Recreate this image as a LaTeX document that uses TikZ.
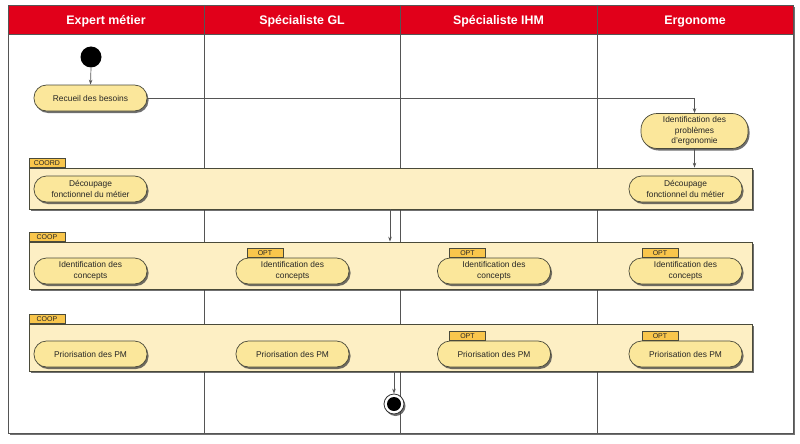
\documentclass[tikz,border=0pt]{standalone}
\usepackage{fontspec}
\setmainfont{Liberation Sans}
\usetikzlibrary{shadows,arrows.meta,calc}
\definecolor{hdrred}{HTML}{E1001A}
\definecolor{pillfill}{HTML}{FBE79B}
\definecolor{bandfill}{HTML}{FDEFC4}
\definecolor{tabfill}{HTML}{F9C64C}
\definecolor{edge}{HTML}{4A4A3A}
\definecolor{lane}{HTML}{555555}
\tikzset{
  myshadow/.style={drop shadow={shadow xshift=1.5pt,shadow yshift=-2pt,opacity=0.75,fill=black!75}},
  pill/.style={draw=edge,fill=pillfill,rounded corners=12.5pt,minimum width=113pt,minimum height=26pt,
    align=center,inner sep=0pt,font=\fontsize{8.4}{10.5}\selectfont,text=black!85,myshadow,line width=0.7pt},
  bigpill/.style={pill,rounded corners=16pt,minimum width=107pt,minimum height=35pt},
  band/.style={draw=edge,fill=bandfill,minimum width=723pt,inner sep=0pt,myshadow,line width=0.7pt},
  tabbox/.style={draw=edge,fill=tabfill,minimum width=36pt,minimum height=9.5pt,inner sep=0pt,
    font=\fontsize{7}{7}\selectfont,text=black!85,anchor=south west,line width=0.6pt},
  hdr/.style={text=white,font=\fontsize{12.4}{14}\selectfont\bfseries,anchor=base},
  flow/.style={draw=lane,line width=0.7pt,-{Stealth[length=5pt,width=3.5pt]}},
  flowline/.style={draw=lane,line width=0.7pt}
}
\begin{document}
\begin{tikzpicture}[x=1pt,y=-1pt]
\useasboundingbox (0,0) rectangle (800,444);
% frame
\path[fill=white,draw=lane,line width=0.9pt,myshadow] (8,5) rectangle (793,433);
\path[fill=hdrred,draw=lane,line width=0.9pt] (8,5) rectangle (793,34);
\foreach \x in {204,400,597}{\draw[lane,line width=0.9pt] (\x,5) -- (\x,433);}
\node[hdr] (h1) at (106,25) {Expert métier};
\node[hdr] (h2) at (302,25) {Spécialiste GL};
\node[hdr] (h3) at (498.5,25) {Spécialiste IHM};
\node[hdr] (h4) at (695,25) {Ergonome};
% bands
\node[band,minimum height=41pt] (coord) at (390.5,188.5) {};
\node[tabbox] (tcoord) at (coord.north west) {COORD};
\node[band,minimum height=47pt] (coop1) at (390.5,265.5) {};
\node[tabbox] (tcoop1) at (coop1.north west) {COOP};
\node[band,minimum height=47pt] (coop2) at (390.5,347.5) {};
\node[tabbox] (tcoop2) at (coop2.north west) {COOP};
% start
\node[circle,fill=black,minimum size=21pt,inner sep=0pt] (start) at (91,57) {};
\node[pill] (rec) at (90.5,98) {Recueil des besoins};
\node[bigpill] (ident) at (694.5,131) {Identification des\\problèmes\\d'ergonomie};
% coord pills
\node[pill] (dec1) at (90.5,189) {Découpage\\fonctionnel du métier};
\node[pill] (dec4) at (685.5,189) {Découpage\\fonctionnel du métier};
% coop1 pills
\node[pill] (ic1) at (90.5,271) {Identification des\\concepts};
\node[pill] (ic2) at (292.5,271) {Identification des\\concepts};
\node[pill] (ic3) at (494,271) {Identification des\\concepts};
\node[pill] (ic4) at (685.5,271) {Identification des\\concepts};
\node[tabbox] (o12) at ($(ic2.north west)+(11,0)$) {OPT};
\node[tabbox] (o13) at ($(ic3.north west)+(12,0)$) {OPT};
\node[tabbox] (o14) at ($(ic4.north west)+(13,0)$) {OPT};
% coop2 pills
\node[pill] (pm1) at (90.5,354) {Priorisation des PM};
\node[pill] (pm2) at (292.5,354) {Priorisation des PM};
\node[pill] (pm3) at (494,354) {Priorisation des PM};
\node[pill] (pm4) at (685.5,354) {Priorisation des PM};
\node[tabbox] (o23) at ($(pm3.north west)+(12,0)$) {OPT};
\node[tabbox] (o24) at ($(pm4.north west)+(13,0)$) {OPT};
% end
\node[circle,draw=black!80,fill=white,line width=0.8pt,minimum size=20pt,inner sep=0pt,myshadow] (endc) at (394,404) {};
\node[circle,fill=black,minimum size=14pt,inner sep=0pt] (endin) at (endc) {};
% connectors
\coordinate (a1) at (390,0);
\draw[flow] (start.south) -- (rec.north);
\draw[flow] (rec.east) -| (ident.north);
\draw[flow] (ident.south) -- (ident.south |- coord.north);
\draw[flow] (a1 |- coord.south) -- (a1 |- coop1.north);
\draw[flow] (endc.north |- coop2.south) -- (endc.north);
\end{tikzpicture}
\end{document}
